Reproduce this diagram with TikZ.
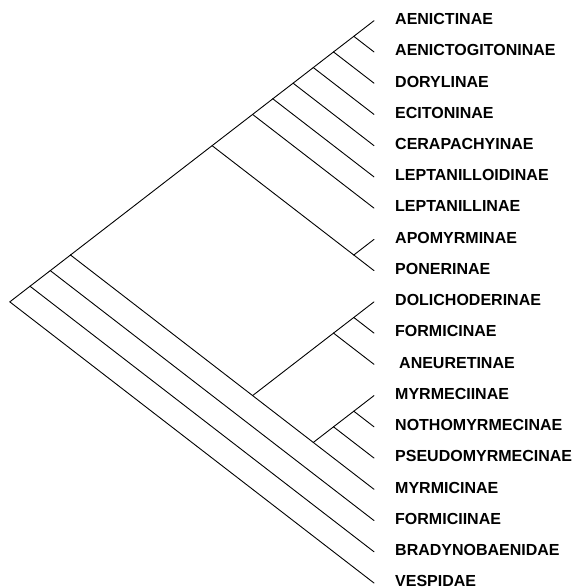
\documentclass[tikz,border=0pt]{standalone}
\usepackage{fontspec}
\setmainfont{Liberation Sans}
\begin{document}
\begin{tikzpicture}[x=1pt,y=1pt,
  br/.style={draw=black,line width=0.9pt,line cap=round},
  lab/.style={anchor=west,inner sep=0pt,font=\bfseries\fontsize{16}{18}\selectfont,text=black}]
\useasboundingbox (0,0) rectangle (582,-588);
% tips
\coordinate (t0) at (374,-20.7);
\coordinate (t1) at (374,-51.94);
\coordinate (t2) at (374,-83.18);
\coordinate (t3) at (374,-114.42);
\coordinate (t4) at (374,-145.66);
\coordinate (t5) at (374,-176.9);
\coordinate (t6) at (374,-208.14);
\coordinate (t7) at (374,-239.38);
\coordinate (t8) at (374,-270.62);
\coordinate (t9) at (374,-301.86);
\coordinate (t10) at (374,-333.1);
\coordinate (t11) at (374,-364.34);
\coordinate (t12) at (374,-395.58);
\coordinate (t13) at (374,-426.82);
\coordinate (t14) at (374,-458.06);
\coordinate (t15) at (374,-489.3);
\coordinate (t16) at (374,-520.54);
\coordinate (t17) at (374,-551.78);
\coordinate (t18) at (374,-583.02);
% labels
\node[lab] (l0) at (395,-19) {AENICTINAE};
\node[lab] (l1) at (395,-50.2) {AENICTOGITONINAE};
\node[lab] (l2) at (395,-81.5) {DORYLINAE};
\node[lab] (l3) at (395,-112.7) {ECITONINAE};
\node[lab] (l4) at (395,-144) {CERAPACHYINAE};
\node[lab] (l5) at (395,-175.2) {LEPTANILLOIDINAE};
\node[lab] (l6) at (395,-206.4) {LEPTANILLINAE};
\node[lab] (l7) at (395,-237.7) {APOMYRMINAE};
\node[lab] (l8) at (395,-268.9) {PONERINAE};
\node[lab] (l9) at (395,-300.1) {DOLICHODERINAE};
\node[lab] (l10) at (395,-331.4) {FORMICINAE};
\node[lab] (l11) at (399,-362.6) {ANEURETINAE};
\node[lab] (l12) at (395,-393.8) {MYRMECIINAE};
\node[lab] (l13) at (395,-425.1) {NOTHOMYRMECINAE};
\node[lab] (l14) at (395,-456.3) {PSEUDOMYRMECINAE};
\node[lab] (l15) at (395,-487.6) {MYRMICINAE};
\node[lab] (l16) at (395,-518.8) {FORMICIINAE};
\node[lab] (l17) at (395,-550) {BRADYNOBAENIDAE};
\node[lab] (l18) at (395,-580.5) {VESPIDAE};
% internal nodes
\coordinate (root) at (9.8,-301.86);
\coordinate (a17) at (30.0,-286.24);
\coordinate (a16) at (50.3,-270.62);
\coordinate (a15) at (70.5,-255.0);
\coordinate (top) at (212.1,-145.66);
\coordinate (apo) at (353.8,-255.0);
\coordinate (c6) at (252.6,-114.42);
\coordinate (c5) at (272.8,-98.8);
\coordinate (c4) at (293.1,-83.18);
\coordinate (c3) at (313.3,-67.56);
\coordinate (c2) at (333.5,-51.94);
\coordinate (c1) at (353.8,-36.32);
\coordinate (low) at (252.6,-395.58);
\coordinate (dol) at (333.5,-333.1);
\coordinate (dol2) at (353.8,-317.48);
\coordinate (myr) at (313.3,-442.44);
\coordinate (myr2) at (333.5,-426.82);
\coordinate (myr3) at (353.8,-411.2);
% branches
\draw[br] (root) -- (t18);
\draw[br] (root) -- (a17);
\draw[br] (a17) -- (t17);
\draw[br] (a17) -- (a16);
\draw[br] (a16) -- (t16);
\draw[br] (a16) -- (a15);
\draw[br] (a15) -- (top);
\draw[br] (a15) -- (low);
\draw[br] (top) -- (c6);
\draw[br] (top) -- (apo);
\draw[br] (apo) -- (t7);
\draw[br] (apo) -- (t8);
\draw[br] (c6) -- (t6);
\draw[br] (c6) -- (c5);
\draw[br] (c5) -- (t5);
\draw[br] (c5) -- (c4);
\draw[br] (c4) -- (t4);
\draw[br] (c4) -- (c3);
\draw[br] (c3) -- (t3);
\draw[br] (c3) -- (c2);
\draw[br] (c2) -- (t2);
\draw[br] (c2) -- (c1);
\draw[br] (c1) -- (t1);
\draw[br] (c1) -- (t0);
\draw[br] (low) -- (dol);
\draw[br] (low) -- (myr);
\draw[br] (dol) -- (t11);
\draw[br] (dol) -- (dol2);
\draw[br] (dol2) -- (t9);
\draw[br] (dol2) -- (t10);
\draw[br] (myr) -- (t15);
\draw[br] (myr) -- (myr2);
\draw[br] (myr2) -- (t14);
\draw[br] (myr2) -- (myr3);
\draw[br] (myr3) -- (t13);
\draw[br] (myr3) -- (t12);
\end{tikzpicture}
\end{document}
